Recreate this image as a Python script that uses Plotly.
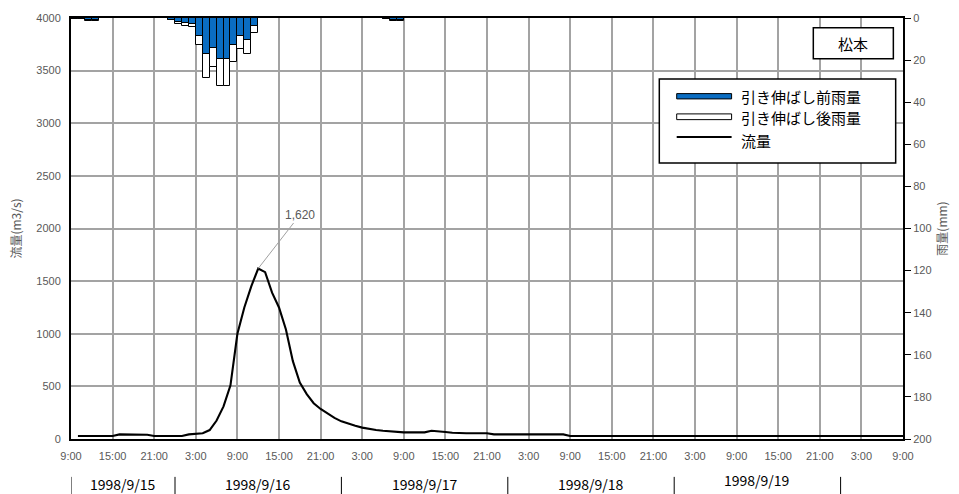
import plotly.graph_objects as go
from datetime import datetime, timedelta

# ---------------- data ----------------
start_time = datetime(1998, 9, 15, 9, 0)
end_hours = 120

# hourly discharge (m3/s), hours 1..120 after start_time
flow = [29, 29, 29, 29, 29, 29,
        44, 44, 44, 43, 41,
        29, 29, 29, 29, 29,
        44, 48, 55, 85, 175, 310, 510, 1000,
        1250, 1450, 1620, 1585, 1390, 1250, 1040, 740, 537, 426, 340, 285,
        240, 200, 168, 145, 125, 108, 95, 85, 78, 72, 66, 63,
        63, 63, 63, 78, 76, 67, 59, 55, 55, 55, 55, 54,
        44, 44, 44, 44, 44, 44, 44, 44, 44, 44, 44] + [29] * 49
flow_hours = list(range(1, 1 + len(flow)))

# hourly rainfall (mm): hour offset of interval start
rain_hours = [0, 1, 2, 3, 14, 15, 16, 17, 18, 19, 20, 21, 22, 23, 24, 25, 26, 45, 46, 47]
rain_before = [0.3, 0.3, 1.0, 1.0, 0.8, 1.7, 2.4, 2.7, 8.6, 17.3, 14.3, 19.4, 19.4,
               12.7, 8.7, 10.6, 4.0, 0.3, 1.0, 1.0]
rain_after = [0.3, 0.3, 1.2, 1.2, 1.0, 2.7, 3.8, 4.3, 13.0, 28.4, 23.3, 32.1, 32.1,
              21.0, 14.9, 17.0, 7.0, 0.3, 1.2, 1.2]

date_labels = ["1998/9/15", "1998/9/16", "1998/9/17", "1998/9/18", "1998/9/19"]
station = "松本"
legend_labels = ["引き伸ばし前雨量", "引き伸ばし後雨量", "流量"]

# ---------------- build ----------------
flow_x = [start_time + timedelta(hours=h) for h in flow_hours]
rain_x = [start_time + timedelta(hours=h + 0.5) for h in rain_hours]

BLUE = "#0a6dc2"
GRID = "#a3a3a3"
TICKC = "#595959"
CJK = "Noto Sans CJK JP"

fig = go.Figure()
fig.add_trace(go.Bar(x=rain_x, y=rain_after, width=3600000, yaxis="y2",
                     marker=dict(color="white", line=dict(color="black", width=1)),
                     name=legend_labels[1]))
fig.add_trace(go.Bar(x=rain_x, y=rain_before, width=3600000, yaxis="y2",
                     marker=dict(color=BLUE, line=dict(color="black", width=1)),
                     name=legend_labels[0]))
fig.add_trace(go.Scatter(x=flow_x, y=flow, mode="lines",
                         line=dict(color="black", width=2.1), name=legend_labels[2]))

end_time = start_time + timedelta(hours=end_hours)

fig.update_layout(
    width=959, height=494,
    margin=dict(l=71, r=56, t=18, b=55, autoexpand=False),
    plot_bgcolor="white", paper_bgcolor="white",
    showlegend=False, barmode="overlay", bargap=0,
    xaxis=dict(type="date", range=[start_time, end_time], tick0=start_time,
               dtick=6 * 3600000, tickformat="%-H:%M", automargin=False,
               showgrid=True, gridcolor=GRID, gridwidth=1.5,
               showline=True, linecolor="black", linewidth=2, mirror=True,
               ticks="", ticklabelstandoff=6,
               tickfont=dict(family="Liberation Sans", size=11, color=TICKC)),
    yaxis=dict(range=[0, 4000], dtick=500, showgrid=True, gridcolor=GRID, gridwidth=1.5,
               showline=True, linecolor="black", linewidth=2, zeroline=False,
               ticks="", ticklabelstandoff=6, automargin=False,
               tickfont=dict(family="Liberation Sans", size=11, color=TICKC),
               title=dict(text="流量(m3/s)", font=dict(family=CJK, size=12, color=TICKC),
                          standoff=12)),
    yaxis2=dict(range=[200, 0], dtick=20, overlaying="y", side="right", showgrid=False,
                showline=True, linecolor="black", linewidth=2, zeroline=False,
                ticks="outside", ticklen=6, tickcolor="black", automargin=False,
                tickfont=dict(family="Liberation Sans", size=11, color=TICKC),
                title=dict(text="雨量(mm)", font=dict(family=CJK, size=12, color=TICKC),
                           standoff=8)),
)

# peak annotation
peak = max(flow)
peak_x = flow_x[flow.index(peak)]
fig.add_annotation(x=peak_x, y=peak, xref="x", yref="y", text=f"{peak:,}",
                   showarrow=True, arrowhead=0, arrowwidth=1, arrowcolor="#a0a0a0",
                   ax=42, ay=-54, font=dict(family="Liberation Sans", size=12, color=TICKC))

# date row with separators
seps = [start_time] + [datetime(1998, 9, 15 + d, 0, 0) for d in range(1, 6)]
for s in seps:
    fig.add_shape(type="line", xref="x", yref="paper", x0=s, x1=s, y0=-0.09, y1=-0.135,
                  line=dict(color="black", width=1))
for i, lab in enumerate(date_labels):
    a, b = seps[i], seps[i + 1]
    mid = a + (b - a) / 2
    fig.add_annotation(x=mid, y=-0.107 if i != 4 else -0.097, xref="x", yref="paper",
                       text=lab, showarrow=False, xanchor="center", yanchor="middle",
                       font=dict(family=CJK, size=14, color="black"))

# station box
fig.add_shape(type="rect", xref="paper", yref="paper", x0=0.8922, x1=0.9884, y0=0.903, y1=0.9767,
              fillcolor="white", line=dict(color="black", width=1.5), layer="above")
fig.add_annotation(x=0.9403, y=0.9398, xref="paper", yref="paper", text=station,
                   showarrow=False, xanchor="center", yanchor="middle",
                   font=dict(family=CJK, size=15, color="black"))

# custom legend
fig.add_shape(type="rect", xref="paper", yref="paper", x0=0.7071, x1=0.9912, y0=0.6556, y1=0.8554,
              fillcolor="white", line=dict(color="black", width=1.5), layer="above")
fig.add_shape(type="rect", xref="paper", yref="paper", x0=0.728, x1=0.794, y0=0.8078, y1=0.8204,
              fillcolor=BLUE, line=dict(color="black", width=1), layer="above")
fig.add_shape(type="rect", xref="paper", yref="paper", x0=0.728, x1=0.794, y0=0.7586, y1=0.7722,
              fillcolor="white", line=dict(color="black", width=1), layer="above")
fig.add_shape(type="line", xref="paper", yref="paper", x0=0.728, x1=0.794, y0=0.7175, y1=0.7175,
              line=dict(color="black", width=2), layer="above")
for lab, yy in zip(legend_labels, [0.8124, 0.7641, 0.7094]):
    fig.add_annotation(x=0.803, y=yy, xref="paper", yref="paper", text=lab, showarrow=False,
                       xanchor="left", yanchor="middle",
                       font=dict(family=CJK, size=15, color="black"))

fig.write_html("out.html", config={"displayModeBar": False},
               post_script="document.body.style.margin='0px';document.body.style.overflow='hidden';")
